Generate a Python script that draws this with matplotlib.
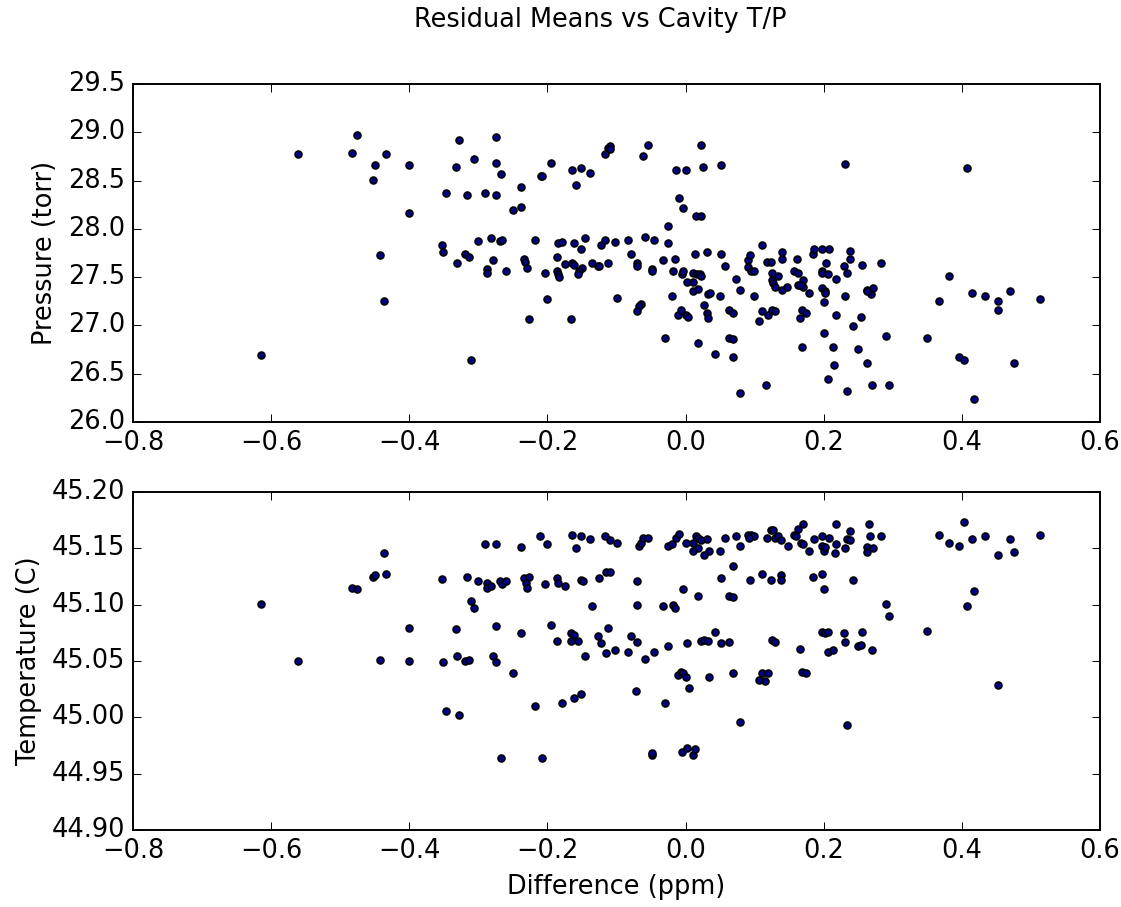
import numpy as np
import matplotlib
matplotlib.use("Agg")
import matplotlib.pyplot as plt

plt.style.use('classic')
plt.rcParams['font.size'] = 13.2

# top panel: difference vs cavity pressure
diff_p = [-0.561, -0.614,
          -0.476, -0.483, -0.433, -0.449, -0.401, -0.453, -0.401, -0.442, -0.437, -0.328,
          -0.274, -0.306, -0.333, -0.274, -0.267, -0.347, -0.317, -0.290, -0.274, -0.250,
          -0.353, -0.351, -0.301, -0.281, -0.269, -0.266, -0.320, -0.314, -0.331, -0.279,
          -0.288, -0.288, -0.260, -0.310,
          -0.238, -0.238, -0.234, -0.232, -0.229, -0.226, -0.218, -0.204, -0.201, -0.210,
          -0.208, -0.195, -0.164, -0.152, -0.139, -0.158, -0.186, -0.184, -0.179, -0.186,
          -0.184, -0.183, -0.174, -0.165, -0.161, -0.161, -0.152, -0.145, -0.150, -0.154,
          -0.156, -0.136, -0.127, -0.125, -0.166, -0.116, -0.113, -0.109, -0.109, -0.122,
          -0.116, -0.113, -0.102, -0.100, -0.084, -0.079, -0.071, -0.070, -0.065, -0.068,
          -0.071, -0.061, -0.055, -0.059, -0.049, -0.049, -0.045, -0.032, -0.030, -0.025,
          -0.025, -0.020, -0.016, -0.018, -0.014, 0.000, -0.009, -0.004, -0.011, -0.006,
          -0.005, -0.003, 0.002, 0.001, 0.003, 0.011, 0.011, 0.011, 0.013, 0.017,
          0.021, 0.023, 0.018, 0.015, 0.023, 0.023, 0.025, 0.018, 0.031, 0.033,
          0.027, 0.031, 0.033,
          0.052, 0.052, 0.057, 0.036, 0.050, 0.043, 0.068, 0.063, 0.068, 0.063,
          0.068, 0.073, 0.079, 0.079, 0.090, 0.090, 0.095, 0.099, 0.093, 0.099,
          0.106, 0.111, 0.111, 0.120, 0.125, 0.129, 0.116, 0.118, 0.123, 0.125,
          0.134, 0.125, 0.127, 0.129, 0.139, 0.139, 0.139, 0.147, 0.161, 0.157,
          0.163, 0.163, 0.170, 0.170, 0.166, 0.179, 0.168, 0.174, 0.166, 0.168,
          0.184, 0.186, 0.197, 0.208, 0.204, 0.197, 0.197, 0.206, 0.218, 0.197,
          0.202, 0.202, 0.200, 0.218, 0.200, 0.213, 0.215, 0.206, 0.231, 0.238,
          0.238, 0.229, 0.234, 0.231, 0.234, 0.243, 0.249, 0.254, 0.256, 0.263,
          0.270, 0.295, 0.263, 0.268, 0.272, 0.263, 0.283, 0.290,
          0.349, 0.367, 0.381, 0.396, 0.403, 0.408, 0.415, 0.417, 0.433, 0.453,
          0.453, 0.469, 0.476, 0.513]
pressure = [28.775, 26.690,
            28.968, 28.790, 28.775, 28.661, 28.661, 28.502, 28.160, 27.725, 27.256, 28.920,
            28.951, 28.726, 28.644, 28.678, 28.564, 28.367, 28.354, 28.367, 28.354, 28.195,
            27.836, 27.756, 27.870, 27.901, 27.870, 27.884, 27.743, 27.708, 27.642, 27.674,
            27.584, 27.546, 27.563, 26.641,
            28.436, 28.226, 27.691, 27.660, 27.591, 27.063, 27.884, 27.546, 27.273, 28.547,
            28.547, 28.678, 28.612, 28.630, 28.581, 28.450, 27.708, 27.850, 27.867, 27.567,
            27.532, 27.504, 27.632, 27.646, 27.622, 27.857, 27.787, 27.901, 27.591, 27.567,
            27.532, 27.646, 27.611, 27.611, 27.063, 28.775, 28.833, 28.861, 28.823, 27.836,
            27.884, 27.646, 27.867, 27.287, 27.884, 27.739, 27.646, 27.615, 27.225, 27.197,
            27.152, 28.757, 28.871, 27.919, 27.580, 27.563, 27.884, 27.674, 26.866, 28.029,
            27.853, 27.304, 27.691, 27.563, 28.612, 28.612, 28.323, 28.212, 27.111, 27.159,
            27.532, 27.563, 27.449, 27.111, 27.083, 27.546, 27.449, 27.353, 27.739, 27.532,
            27.532, 27.515, 27.373, 28.129, 28.129, 28.871, 28.644, 26.821, 27.756, 27.328,
            27.208, 27.125, 27.076,
            28.661, 27.739, 27.611, 27.339, 27.304, 26.707, 26.673, 26.873, 26.855, 27.159,
            27.125, 27.480, 27.370, 26.303, 27.674, 27.608, 27.563, 27.563, 27.729, 27.304,
            27.049, 27.836, 27.145, 27.111, 27.159, 27.145, 26.382, 27.660, 27.660, 27.546,
            27.515, 27.466, 27.435, 27.401, 27.756, 27.691, 27.366, 27.401, 27.691, 27.563,
            27.546, 27.418, 27.466, 27.401, 27.418, 27.335, 27.159, 27.125, 27.076, 26.773,
            27.739, 27.787, 27.787, 27.787, 27.642, 27.563, 27.546, 27.529, 27.480, 27.384,
            27.353, 27.335, 27.239, 27.111, 26.918, 26.773, 26.593, 26.448, 28.675, 27.770,
            27.691, 27.611, 27.546, 27.304, 26.317, 26.997, 26.752, 27.090, 27.629, 26.607,
            26.382, 26.382, 27.370, 27.321, 27.384, 27.353, 27.642, 26.887,
            26.869, 27.256, 27.515, 26.676, 26.641, 28.630, 27.339, 26.238, 27.304, 27.256,
            27.159, 27.353, 26.607, 27.273]

# bottom panel: difference vs cavity temperature
diff_t = [-0.614, -0.561,
          -0.437, -0.453, -0.449, -0.433, -0.483, -0.476, -0.401, -0.442, -0.401, -0.353,
          -0.317, -0.301, -0.288, -0.288, -0.281, -0.269, -0.266, -0.260, -0.290, -0.274,
          -0.310, -0.306, -0.333, -0.274, -0.351, -0.331, -0.320, -0.314, -0.279, -0.274,
          -0.250, -0.347, -0.328, -0.267,
          -0.238, -0.211, -0.201, -0.164, -0.152, -0.158, -0.138, -0.116, -0.109, -0.099,
          -0.068, -0.064, -0.061, -0.054, -0.025, -0.020, -0.014, -0.009, 0.000, 0.011,
          0.015, 0.018, 0.022, 0.011, 0.018, 0.027, 0.031, 0.034, -0.234, -0.226,
          -0.231, -0.229, -0.204, -0.186, -0.184, -0.174, -0.152, -0.149, -0.125, -0.115,
          -0.109, -0.071, -0.003, 0.018, -0.136, -0.071, -0.032, -0.018, -0.016, -0.238,
          -0.195, -0.186, -0.166, -0.161, -0.166, -0.156, -0.145, -0.127, -0.122, -0.115,
          -0.113, -0.102, -0.084, -0.079, -0.070, -0.059, -0.045, -0.025, 0.002, 0.023,
          0.027, -0.218, -0.179, -0.161, -0.152, -0.072, -0.030, -0.011, -0.006, -0.003,
          0.001, 0.005, -0.208, -0.049, -0.049, -0.005, 0.002, 0.011, 0.013, 0.034,
          0.050, 0.057, 0.073, 0.079, 0.090, 0.095, 0.099, 0.092, 0.118, 0.124,
          0.127, 0.129, 0.134, 0.138, 0.148, 0.157, 0.163, 0.170, 0.160, 0.167,
          0.170, 0.179, 0.186, 0.197, 0.208, 0.197, 0.200, 0.202, 0.216, 0.218,
          0.218, 0.231, 0.234, 0.238, 0.238, 0.263, 0.263, 0.265, 0.267, 0.272,
          0.283, 0.068, 0.052, 0.093, 0.111, 0.123, 0.138, 0.138, 0.184, 0.197,
          0.200, 0.243, 0.063, 0.068, 0.290, 0.295, 0.032, 0.043, 0.052, 0.063,
          0.125, 0.129, 0.165, 0.197, 0.202, 0.206, 0.206, 0.213, 0.229, 0.231,
          0.249, 0.254, 0.256, 0.270, 0.068, 0.111, 0.120, 0.107, 0.115, 0.168,
          0.174, 0.079, 0.233,
          0.349, 0.367, 0.381, 0.396, 0.403, 0.415, 0.408, 0.417, 0.433, 0.453,
          0.469, 0.476, 0.453, 0.513]
temperature = [45.101, 45.050,
               45.146, 45.125, 45.126, 45.127, 45.115, 45.114, 45.079, 45.051, 45.050, 45.123,
               45.125, 45.121, 45.119, 45.115, 45.117, 45.121, 45.118, 45.121, 45.154, 45.154,
               45.103, 45.097, 45.078, 45.081, 45.049, 45.054, 45.050, 45.051, 45.054, 45.049,
               45.039, 45.006, 45.002, 44.964,
               45.151, 45.161, 45.154, 45.162, 45.161, 45.150, 45.158, 45.161, 45.157, 45.155,
               45.152, 45.155, 45.159, 45.159, 45.152, 45.154, 45.159, 45.163, 45.155, 45.155,
               45.161, 45.159, 45.157, 45.148, 45.150, 45.144, 45.158, 45.148, 45.124, 45.125,
               45.119, 45.115, 45.118, 45.124, 45.119, 45.117, 45.122, 45.121, 45.124, 45.129,
               45.129, 45.121, 45.114, 45.108, 45.099, 45.100, 45.099, 45.100, 45.097, 45.075,
               45.082, 45.068, 45.075, 45.073, 45.068, 45.068, 45.054, 45.072, 45.066, 45.057,
               45.079, 45.060, 45.058, 45.072, 45.067, 45.052, 45.058, 45.063, 45.066, 45.068,
               45.069, 45.010, 45.013, 45.017, 45.021, 45.023, 45.013, 45.038, 45.040, 45.039,
               45.036, 45.026, 44.964, 44.967, 44.968, 44.969, 44.973, 44.967, 44.972, 45.036,
               45.148, 45.159, 45.161, 45.152, 45.162, 45.162, 45.161, 45.159, 45.159, 45.166,
               45.166, 45.159, 45.161, 45.157, 45.152, 45.162, 45.167, 45.172, 45.161, 45.155,
               45.154, 45.148, 45.158, 45.161, 45.159, 45.152, 45.148, 45.151, 45.146, 45.154,
               45.172, 45.150, 45.158, 45.157, 45.165, 45.151, 45.147, 45.172, 45.161, 45.150,
               45.161, 45.134, 45.124, 45.122, 45.127, 45.122, 45.126, 45.122, 45.125, 45.127,
               45.114, 45.122, 45.108, 45.107, 45.101, 45.090, 45.068, 45.076, 45.066, 45.067,
               45.069, 45.067, 45.061, 45.076, 45.075, 45.076, 45.058, 45.060, 45.075, 45.067,
               45.063, 45.064, 45.076, 45.060, 45.039, 45.039, 45.039, 45.033, 45.032, 45.040,
               45.039, 44.996, 44.993,
               45.077, 45.162, 45.155, 45.152, 45.173, 45.158, 45.099, 45.112, 45.161, 45.144,
               45.158, 45.147, 45.029, 45.162]

W, H, DPI = 1121, 907, 140
fig = plt.figure(figsize=(W / DPI, H / DPI), dpi=DPI, facecolor='white')

def box(x0, y0, x1, y1):
    # pixel box -> figure fraction
    return [x0 / W, 1 - y1 / H, (x1 - x0) / W, (y1 - y0) / H]

ax1 = fig.add_axes(box(133, 84, 1100, 422))
ax1.scatter(diff_p, pressure, s=13, facecolor='#000080', edgecolor='black', linewidths=0.8)
ax1.set_xlim(-0.8, 0.6)
ax1.set_ylim(26.0, 29.5)
ax1.set_ylabel('Pressure (torr)')

ax2 = fig.add_axes(box(133, 492, 1100, 830))
ax2.scatter(diff_t, temperature, s=13, facecolor='#000080', edgecolor='black', linewidths=0.8)
ax2.set_xlim(-0.8, 0.6)
ax2.set_ylim(44.90, 45.20)
ax2.set_yticks(np.arange(44.90, 45.2001, 0.05))
ax2.yaxis.set_major_formatter(matplotlib.ticker.FormatStrFormatter('%.2f'))
ax2.set_ylabel('Temperature (C)')
ax2.set_xlabel('Difference (ppm)')

fig.text(600 / W, 1 - 20 / H, 'Residual Means vs Cavity T/P', ha='center', va='center')

fig.savefig('out.png', dpi=DPI, facecolor='white')
